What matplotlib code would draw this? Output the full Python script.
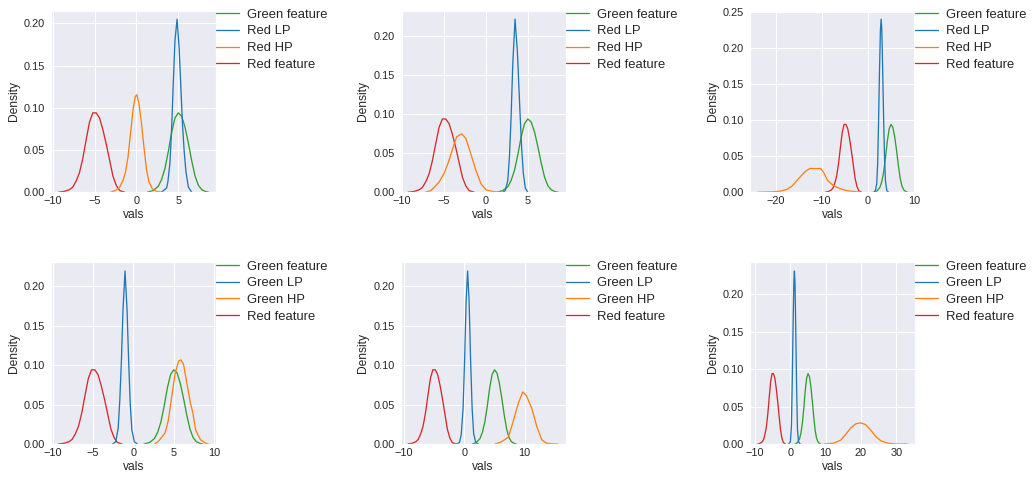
import numpy as np
import matplotlib
matplotlib.use("Agg")
import matplotlib.pyplot as plt
import seaborn as sns

# shared curves (same in every panel)
green_feature_x = [1.3, 2.0, 2.6, 3.0, 3.4, 3.8, 4.2, 4.6, 5.0, 5.4, 5.8, 6.2, 6.6, 7.0, 7.4, 7.8, 8.2, 8.6]
green_feature_y = [0.000, 0.002, 0.007, 0.015, 0.028, 0.048, 0.071, 0.088, 0.094, 0.090, 0.077, 0.058, 0.037, 0.019, 0.008, 0.003, 0.001, 0.000]
red_feature_x = [-9.3, -8.6, -8.0, -7.6, -7.2, -6.8, -6.4, -6.0, -5.6, -5.2, -4.8, -4.4, -4.0, -3.6, -3.2, -2.8, -2.4, -2.0, -1.4]
red_feature_y = [0.000, 0.001, 0.003, 0.006, 0.013, 0.023, 0.040, 0.062, 0.083, 0.094, 0.094, 0.088, 0.074, 0.057, 0.038, 0.019, 0.008, 0.002, 0.000]

# top row: Red LP / Red HP
red_lp_x = [
    [3.0, 3.35, 3.6, 3.75, 4.0, 4.2, 4.4, 4.6, 4.85, 5.1, 5.3, 5.5, 5.7, 5.9, 6.2, 6.6],
    [2.0, 2.3, 2.6, 2.8, 3.0, 3.2, 3.47, 3.75, 4.05, 4.25, 4.45, 4.7, 5.0],
    [1.2, 1.6, 1.9, 2.1, 2.3, 2.5, 2.7, 2.85, 3.0, 3.2, 3.4, 3.6, 3.8, 4.1, 4.5],
]
red_lp_y = [
    [0.0, 0.003, 0.005, 0.012, 0.035, 0.075, 0.13, 0.18, 0.205, 0.17, 0.125, 0.08, 0.048, 0.025, 0.006, 0.0],
    [0.0, 0.002, 0.015, 0.045, 0.097, 0.165, 0.222, 0.18, 0.105, 0.058, 0.025, 0.005, 0.0],
    [0.0, 0.002, 0.012, 0.04, 0.1, 0.17, 0.225, 0.24, 0.225, 0.165, 0.1, 0.045, 0.015, 0.002, 0.0],
]
red_hp_x = [
    [-3.1, -2.5, -2.0, -1.6, -1.3, -1.0, -0.7, -0.4, -0.15, 0.05, 0.3, 0.6, 0.9, 1.2, 1.5, 1.9, 2.4, 3.0],
    [-7.2, -6.6, -6.2, -5.6, -5.0, -4.5, -4.0, -3.5, -2.9, -2.4, -1.8, -1.2, -0.6, 0.0, 0.8, 1.6],
    [-24.0, -21.0, -19.0, -17.6, -16.6, -16.0, -15.2, -14.4, -13.6, -12.6, -11.5, -10.3, -9.6, -8.8, -7.6, -6.1, -4.5, -1.6],
]
red_hp_y = [
    [0.0, 0.002, 0.006, 0.014, 0.024, 0.042, 0.07, 0.098, 0.113, 0.1156, 0.105, 0.082, 0.053, 0.027, 0.012, 0.004, 0.001, 0.0],
    [0.0, 0.002, 0.006, 0.013, 0.024, 0.038, 0.055, 0.071, 0.075, 0.069, 0.049, 0.028, 0.011, 0.003, 0.001, 0.0],
    [0.0, 0.0005, 0.0015, 0.004, 0.008, 0.012, 0.018, 0.0236, 0.029, 0.033, 0.0328, 0.033, 0.027, 0.0166, 0.0095, 0.005, 0.002, 0.0],
]

# bottom row: Green LP / Green HP
green_lp_x = [
    [-2.6, -2.2, -1.9, -1.7, -1.5, -1.3, -1.05, -0.8, -0.6, -0.4, -0.2, 0.1, 0.5],
    [-1.3, -0.8, -0.5, -0.2, 0.05, 0.3, 0.55, 0.8, 1.05, 1.3, 1.55, 1.9, 2.3],
    [-0.5, 0.0, 0.3, 0.55, 0.8, 1.0, 1.14, 1.3, 1.5, 1.75, 2.0, 2.3, 2.8],
]
green_lp_y = [
    [0.0, 0.003, 0.02, 0.055, 0.105, 0.17, 0.219, 0.17, 0.105, 0.05, 0.018, 0.003, 0.0],
    [0.0, 0.002, 0.012, 0.045, 0.105, 0.18, 0.219, 0.18, 0.105, 0.045, 0.013, 0.002, 0.0],
    [0.0, 0.003, 0.025, 0.09, 0.17, 0.218, 0.231, 0.215, 0.16, 0.08, 0.02, 0.003, 0.0],
]
green_hp_x = [
    [2.6, 3.04, 3.46, 3.9, 4.3, 4.75, 5.17, 5.6, 5.87, 6.2, 6.6, 7.05, 7.35, 7.7, 8.3, 8.95, 9.3],
    [5.1, 6.2, 7.3, 8.1, 8.95, 9.67, 10.3, 11.2, 12.0, 12.8, 13.6, 14.6, 15.5],
    [9.5, 12.3, 14.2, 15.6, 17.1, 18.5, 19.9, 21.3, 22.7, 24.2, 25.6, 27.5, 29.4, 31.0, 33.2],
]
green_hp_y = [
    [0.0, 0.003, 0.008, 0.014, 0.029, 0.061, 0.09, 0.105, 0.1066, 0.101, 0.078, 0.052, 0.04, 0.018, 0.0055, 0.001, 0.0],
    [0.0, 0.003, 0.009, 0.029, 0.052, 0.066, 0.061, 0.044, 0.022, 0.0055, 0.001, 0.0002, 0.0],
    [0.0, 0.0013, 0.005, 0.0125, 0.0215, 0.027, 0.0283, 0.026, 0.019, 0.010, 0.0045, 0.0013, 0.0003, 0.0001, 0.0],
]

top_labels = ["Green feature", "Red LP", "Red HP", "Red feature"]
bottom_labels = ["Green feature", "Green LP", "Green HP", "Red feature"]

sns.set_theme(style="darkgrid")
plt.rcParams["font.family"] = ["Liberation Sans", "DejaVu Sans"]

fig, axes = plt.subplots(2, 3, figsize=(1034/72, 478/72), dpi=72)
fig.subplots_adjust(left=0.0493, right=0.885, top=0.978, bottom=0.071, wspace=1.118, hspace=0.386)

lw = 1.3
for row in range(2):
    for col in range(3):
        ax = axes[row, col]
        if row == 0:
            lp_x, lp_y, hp_x, hp_y = red_lp_x[col], red_lp_y[col], red_hp_x[col], red_hp_y[col]
            labels = top_labels
        else:
            lp_x, lp_y, hp_x, hp_y = green_lp_x[col], green_lp_y[col], green_hp_x[col], green_hp_y[col]
            labels = bottom_labels
        # drawn back to front like seaborn does
        l_rf, = ax.plot(red_feature_x, red_feature_y, color="tab:red", lw=lw)
        l_gf, = ax.plot(green_feature_x, green_feature_y, color="tab:green", lw=lw)
        l_hp, = ax.plot(hp_x, hp_y, color="tab:orange", lw=lw)
        l_lp, = ax.plot(lp_x, lp_y, color="tab:blue", lw=lw)
        ax.set_ylim(bottom=0)
        ax.set_xlabel("vals", fontsize=12, labelpad=3)
        ax.set_ylabel("Density", fontsize=12, labelpad=4)
        ax.tick_params(axis="both", labelsize=11, length=0)
        ax.tick_params(axis="y", pad=6)
        ax.tick_params(axis="x", pad=4)
        ax.legend([l_gf, l_lp, l_hp, l_rf], labels, loc="upper left",
                  bbox_to_anchor=(1.0, 1.01), borderaxespad=0, borderpad=0,
                  frameon=False, fontsize=13, handlelength=1.8, handletextpad=0.6,
                  labelspacing=0.35)

fig.savefig("out.png", dpi=72)
